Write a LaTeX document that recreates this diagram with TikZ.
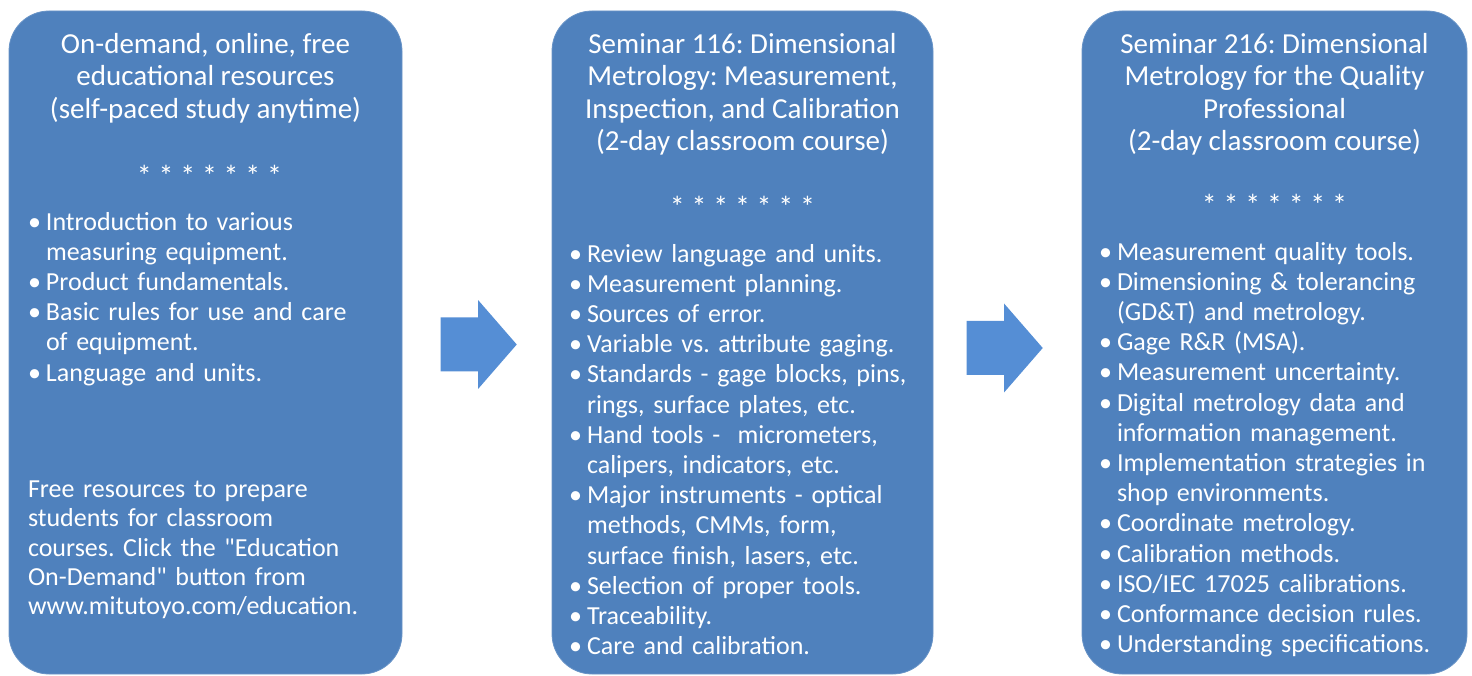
\documentclass[tikz,border=0pt]{standalone}
\usepackage{fontspec}
\setmainfont{Carlito}
\usepackage{xcolor}
\usetikzlibrary{shapes,arrows,positioning}
\definecolor{boxblue}{HTML}{4F81BD}
\definecolor{arrowblue}{HTML}{558ED5}
\newlength{\bulind}
\setlength{\bulind}{18pt}
\newcommand{\itm}[1]{\par\hangindent=\bulind\hangafter=1\noindent\hbox to\bulind{\textbullet\hfil}#1}
\frenchspacing

\begin{document}
\begin{tikzpicture}[x=1pt, y=1pt, inner sep=0pt, outer sep=0pt,
    box/.style={rectangle, rounded corners=40pt, fill=boxblue, draw=boxblue!85!white, line width=0.8pt, minimum height=663pt, anchor=north west},
    head/.style={text=white, align=center, anchor=north, font=\fontsize{29}{32.2}\selectfont},
    stars/.style={text=white, anchor=base, font=\fontsize{30}{32}\selectfont},
    items/.style={text=white, align=left, anchor=north west, font=\fontsize{26}{30.2}\selectfont},
    blockarrow/.style={single arrow, fill=arrowblue, inner xsep=0pt, inner ysep=26.8pt, single arrow head extend=17.3pt, single arrow tip angle=98, minimum height=76pt}]

      \useasboundingbox (0,0) rectangle (1472,675);

      \node[box, minimum width=393pt] (online) at (9,664) {};
      \node[box, minimum width=381pt] (sem116) at (552,664) {};
      \node[box, minimum width=385pt] (sem216) at (1082,664) {};

      \node[blockarrow] (go1) at (467,330.5) {};
      \node[blockarrow] (go2) at (993,327) {};

      \node[head] (online head) at (205.5,641.5) {On-demand, online, free\\educational resources\\(self-paced study anytime)};
      \node[stars] (online stars) at (209.5,488.5) {* * * * * * *};
      \node[items, text width=370pt] (online list) at (28,475) {%
        \itm{Introduction to various\newline measuring equipment.}
        \itm{Product fundamentals.}
        \itm{Basic rules for use and care\newline of equipment.}
        \itm{Language and units.}};
      \node[items, text width=370pt, font=\fontsize{26}{29.2}\selectfont] (online note) at (28,194) {%
        Free resources to prepare\newline students for classroom\newline courses. Click the \textquotedbl Education\newline On-Demand\textquotedbl{} button from\newline www.mitutoyo.com/education.};

      \node[head] (sem116 head) at (742.5,641.5) {Seminar 116: Dimensional\\Metrology: Measurement,\\Inspection, and Calibration\\(2-day classroom course)};
      \node[stars] (sem116 stars) at (742.5,457.5) {* * * * * * *};
      \node[items, text width=360pt] (sem116 list) at (569,443) {%
        \itm{Review language and units.}
        \itm{Measurement planning.}
        \itm{Sources of error.}
        \itm{Variable vs. attribute gaging.}
        \itm{Standards - gage blocks, pins,\newline rings, surface plates, etc.}
        \itm{Hand tools -\ \ micrometers,\newline calipers, indicators, etc.}
        \itm{Major instruments - optical\newline methods, CMMs, form,\newline surface finish, lasers, etc.}
        \itm{Selection of proper tools.}
        \itm{Traceability.}
        \itm{Care and calibration.}};

      \node[head] (sem216 head) at (1274.5,641.5) {Seminar 216: Dimensional\\Metrology for the Quality\\Professional\\(2-day classroom course)};
      \node[stars] (sem216 stars) at (1274.5,459.5) {* * * * * * *};
      \node[items, text width=360pt] (sem216 list) at (1099,445) {%
        \itm{Measurement quality tools.}
        \itm{Dimensioning \& tolerancing\newline (GD\&T) and metrology.}
        \itm{Gage R\&R (MSA).}
        \itm{Measurement uncertainty.}
        \itm{Digital metrology data and\newline information management.}
        \itm{Implementation strategies in\newline shop environments.}
        \itm{Coordinate metrology.}
        \itm{Calibration methods.}
        \itm{ISO/IEC 17025 calibrations.}
        \itm{Conformance decision rules.}
        \itm{Understanding specifications.}};
    \end{tikzpicture}
\end{document}
